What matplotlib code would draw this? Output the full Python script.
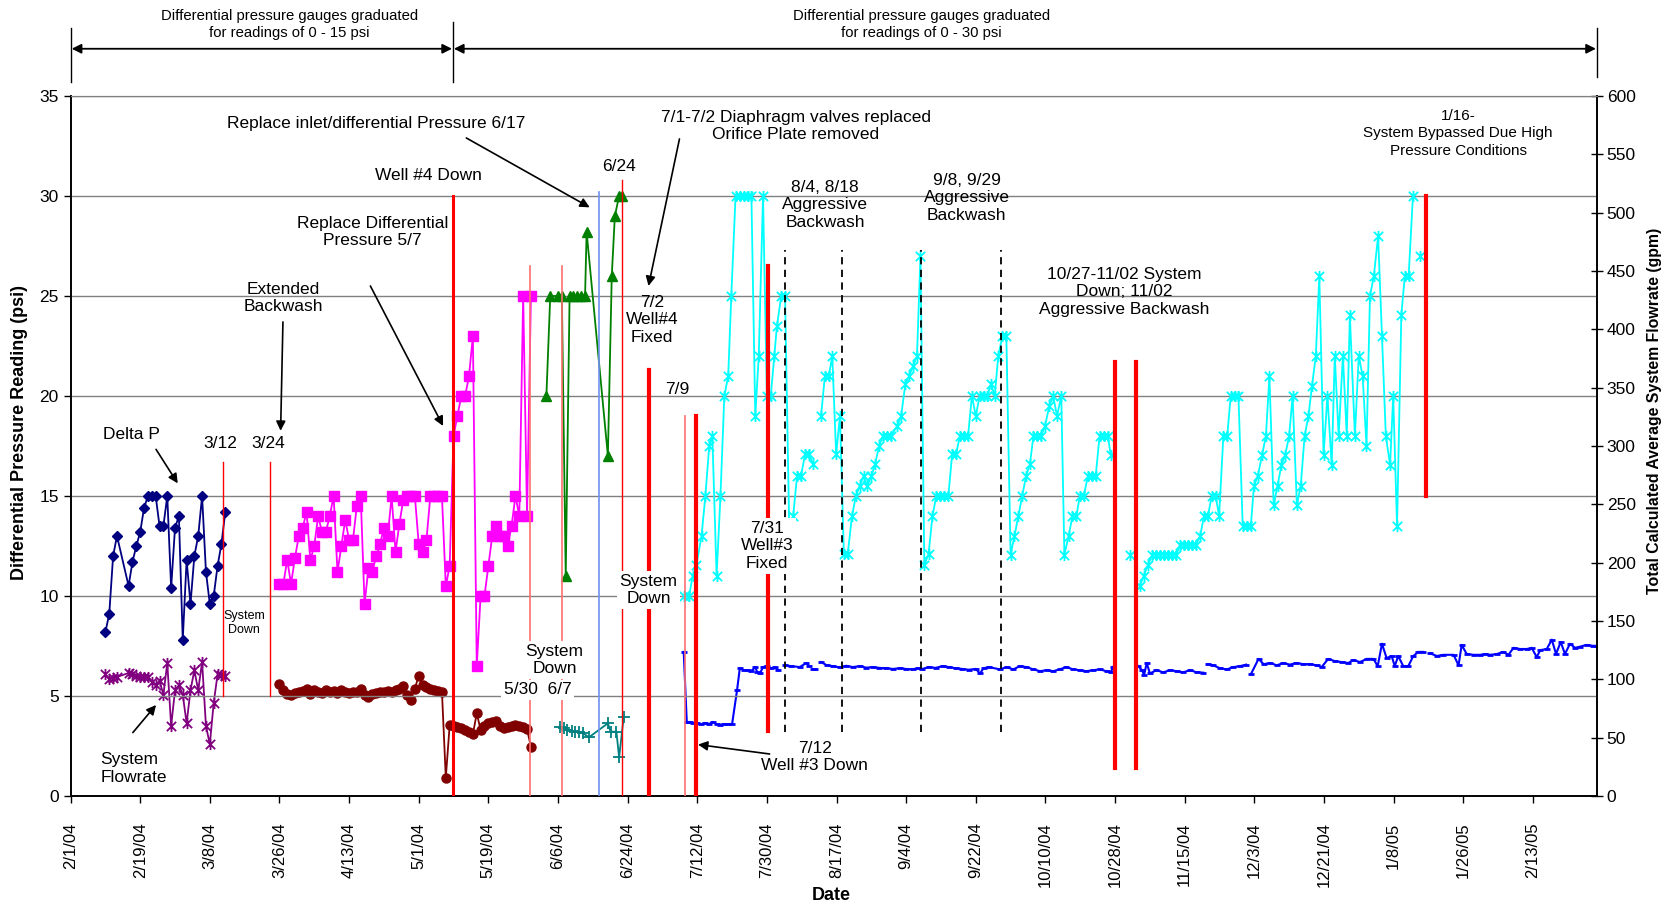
import datetime as dt
import numpy as np
import matplotlib
matplotlib.use("Agg")
import matplotlib.pyplot as plt
from matplotlib.path import Path

plt.rcParams['font.family'] = ['Liberation Sans', 'DejaVu Sans']

START = dt.date(2004, 2, 1)
nan = np.nan

# x values are days after 2/1/04

# ---- Feb/Mar 2004 (0-15 psi gauges) ----
dp1_days = [9, 10, 11, 12, 15, 16, 17, 18, 19, 20, 21, 22, 23, 24, 25,
            26, 27, 28, 29, 30, 31, 32, 33, 34, 35, 36, 37, 38, 39, 40]
dp1_psi = [8.2, 9.1, 12.0, 13.0, 10.5, 11.7, 12.5, 13.2, 14.4, 15.0, 15.0, 15.0, 13.5, 13.5, 15.0,
           10.4, 13.4, 14.0, 7.8, 11.8, 9.6, 12.0, 13.0, 15.0, 11.2, 9.6, 10.0, 11.5, 12.6, 14.2]
flow1_gpm = [104.3, 100.3, 101.1, 102.0, 105.4, 104.9, 102.9, 101.7, 101.7, 101.7, 97.7, 95.4, 98.6, 86.9, 114.0,
             60.0, 90.6, 94.9, 86.9, 62.3, 90.6, 107.7, 90.6, 114.9, 60.0, 44.3, 79.7, 104.3, 103.4, 102.6]

# ---- Mar 24 - May 30 ----
dp2_days = list(range(54, 120))
dp2_psi = [10.6, 10.6, 11.8, 10.6, 11.9, 13.0, 13.4, 14.2, 11.8, 12.5, 14.0, 13.2, 13.2, 14.0, 15.0,
           11.2, 12.5, 13.8, 12.8, 12.8, 14.5, 15.0, 9.6, 11.4, 11.2, 12.0, 12.6, 13.4, 13.0, 15.0,
           12.2, 13.6, 14.8, 15.0, 15.0, 15.0, 12.6, 12.2, 12.8, 15.0, 15.0, 15.0, 15.0, 10.5, 11.5,
           18.0, 19.0, 20.0, 20.0, 21.0, 23.0, 6.5, 10.0, 10.0, 11.5, 13.0, 13.5, 13.0, 13.0, 12.5,
           13.5, 15.0, 14.0, 25.0, 14.0, 25.0]
flow2_gpm = [96.3, 90.6, 87.7, 86.3, 88.3, 89.1, 90.0, 92.0, 87.7, 90.6, 89.1, 88.3, 90.6, 89.1, 90.0,
             88.3, 91.1, 89.1, 88.3, 89.1, 89.1, 92.0, 86.3, 84.9, 87.7, 88.3, 89.1, 89.1, 90.0, 89.1,
             90.6, 92.0, 94.0, 86.3, 82.6, 92.0, 103.1, 95.0, 93.0, 91.4, 90.5, 90.3, 89.5, 15.7, 60.6,
             60.0, 59.4, 58.0, 56.6, 55.1, 52.9, 70.9, 56.6, 60.3, 62.3, 63.7, 64.6, 60.3, 58.0, 59.4,
             60.3, 60.9, 60.3, 59.4, 57.1, 42.3]

# ---- June 2004 ----
dp3_days = [123, 124, 126, 127, 128, 129, 130, 131, 132, 133, 133.4, 138.9, 139.9, 140.7, 141.8, 142.5]
dp3_psi = [20.0, 25.0, 25.0, 25.0, 11.0, 25.0, 25.0, 25.0, 25.0, 25.0, 28.2, 17.0, 26.0, 29.0, 30.0, 30.0]
flow3_days = [126.4, 127.5, 128.4, 129.5, 130.5, 131.5, 132.5, 134.0, 138.9, 139.6, 141.1, 141.8, 143.0]
flow3_gpm = [59.4, 58.0, 56.6, 56.0, 55.1, 54.6, 53.7, 50.3, 62.3, 55.1, 55.1, 33.1, 68.0]

# ---- July 2004 - Jan 2005 (0-30 psi gauges) ----
dp4_days = [158.5, 159.9, 160.8, 161.8, 163.1, 164.1, 165.1, 165.9, 167, 168, 169, 170, 170.8, 171.9,
            173, 174, 175, 176, 177, 177.9, 179, 180, 181, 181.9, 182.6, 183.7, 184.7, 185.8, 186.8,
            187.8, 188.8, 189.9, 190.9, 191.9, 193,
            194, 195, 196, 196.9, 197.9, 198.9, 199.9, 200.9, 202, 203, 204, 205, 205.9, 207, 208,
            209, 210, 211, 212, 213.7, 214.7, 215.8, 216.8, 217.8, 218.8, 219.7, 220.7, 221.8, 222.8,
            223.8, 224.8, 225.9, 226.9, 227.9, 228.9, 229.9, 230.9, 232, 233, 234, 235, 236, 237,
            237.9, 238.9, 239.8, 240.9, 241.9, 243, 244, 245, 246, 247, 248, 248.9, 249.9, 250.9,
            251.9, 253, 254, 255, 256.1, 256.9, 258, 259, 260, 260.9, 261.9, 263, 264, 265, 266,
            267.1, 268.1, 268.9, 271, 273.8, 275,
            276.4, 277.4, 278.5, 279.6, 280.6, 281.6, 282.7, 283.7, 284.7, 285.8, 286.8, 287.8, 288.9,
            289.9, 290.9, 292, 293, 294, 295, 296, 296.9, 298, 299, 299.9, 300.9, 301.9, 303, 304,
            305.1, 305.9, 306.9, 308, 309, 309.9, 311, 312, 313, 314, 315, 315.9, 317, 318, 319, 320,
            320.9, 321.9, 322.8, 323.9, 324.9, 326, 326.8, 327.8, 328.9, 329.9, 330.7, 332, 333, 334,
            335, 335.9, 336.9, 338, 339, 340, 341.1, 341.9, 342.9, 344, 344.9, 345.9, 347, 348, 348.9]
dp4_psi = [10.0, 10.0, 11.0, 11.55, 13.0, 15.0, 17.5, 18.0, 11.0, 15.0, 20.0, 21.0, 25.0, 30.0,
           30.0, 30.0, 30.0, 30.0, 19.0, 22.0, 30.0, 20.0, 20.0, 22.0, 23.5, 25.0, 25.0, 13.1, 14.0,
           16.0, 16.0, 17.1, 17.1, 16.6, nan,
           19.0, 21.0, 21.0, 22.0, 17.1, 19.0, 12.1, 12.1, 14.0, 15.0, 15.5, 16.0, 15.5, 16.0, 16.6,
           17.5, 18.0, 18.0, 18.0, 18.5, 19.0, 20.6, 21.0, 21.5, 22.0, 27.0, 11.55, 12.1, 14.0,
           15.0, 15.0, 15.0, 15.0, 17.1, 17.1, 18.0, 18.0, 18.0, 20.0, 19.0, 20.0, 20.0, 20.0,
           20.6, 20.0, 22.0, 23.0, 23.0, 12.06, 13.0, 14.0, 15.0, 16.0, 16.6, 18.0, 18.0, 18.0,
           18.5, 19.5, 20.0, 19.0, 20.0, 12.06, 13.0, 14.0, 14.0, 15.0, 15.0, 16.0, 16.0, 16.0, 18.0,
           18.0, 18.0, 17.06, nan, 12.06, nan,
           10.5, 11.0, 11.55, 12.06, 12.06, 12.06, 12.06, 12.06, 12.06, 12.06, 12.55, 12.55, 12.55,
           12.55, 12.55, 13.0, 14.0, 14.0, 15.0, 15.0, 14.0, 18.0, 18.0, 20.0, 20.0, 20.0, 13.5, 13.5,
           13.5, 15.5, 16.0, 17.06, 18.0, 21.0, 14.55, 15.5, 16.55, 17.06, 18.0, 20.0, 14.55, 15.5, 18.0, 19.0,
           20.5, 22.0, 26.0, 17.06, 20.0, 16.55, 22.0, 18.0, 22.0, 18.0, 24.04, 18.0, 22.0, 21.0,
           17.5, 25.0, 26.0, 28.0, 23.0, 18.0, 16.55, 20.0, 13.5, 24.04, 26.0, 26.0, 30.0, nan, 27.0]

flow4_days = [158.5, 159.3, 160, 161, 162, 163, 164, 165, 166, 167, 168, 169, 170, 171, 172.3,
              173, 174, 175, 176, 177, 177.5, 178.2, 179, 180, 181, 182, 183, 184,
              184.7, 186.3, 188.5, 190.2, 191, 191.6, 191.9, 192.4, 193,
              194, 195.5, 197, 198.8, 200.5, 202.2, 204, 205.7, 207.4, 209.1, 210.8, 212.6, 214.3,
              216, 217.7, 219, 220.2, 221.9, 223.6, 225.4, 227.1, 228.8, 230.5, 232.2, 234, 235.1,
              236, 237.4, 240.2, 242, 243.7, 245.4, 247.1, 248.9, 250.6, 252.3, 254, 255.7, 257.4,
              259.2, 260.9, 262.6, 264.3, 266, 267.8, 268.9, 269.5, 272,
              276, 277, 277.5, 278.2, 279, 280.7, 282.5, 284.2, 285.9, 287.6, 289.4, 291.1, 292.8, 293.4,
              293.9, 295.4, 297.1, 298.9, 300.6, 302.3, 303.9, 304.5,
              305.1, 307.1, 308.4, 310.1, 311.8, 313.5, 315.2, 316.9, 318.7, 320.4, 322.1, 323.4, 325.1,
              326.9, 328.6, 330.3, 331.6, 333.3, 335.1, 336.8, 337.9, 339, 340.2, 341.5, 342.3, 343.2,
              344.5, 345.8, 347.1, 348.4, 349.6, 350.3,
              351.3, 353.2, 354.9, 357.5, 358.8, 359.6, 360.9, 362.7, 364.4, 365.7, 367, 368.7, 370.4,
              371.7, 373, 374.7, 376.5, 377.7, 379, 379.9, 381.6, 382.9, 384, 385.2, 386.3, 387.6,
              388.9, 390.2, 391.9, 393.6, 394.5]
flow4_gpm = [123.5, 63.0, 63.5, 62.5, 62.5, 61.5, 62.5, 61.5, 63.5, 61.5, 61.0, 61.5, 61.5, 61.5, 91.0,
             109.5, 107.8, 107.8, 107.0, 110.5, 106.0, 105.0, 110.5, 111.3, 109.5, 110.2, 107.8, nan,
             112.0, 111.3, 110.5, 114.0, 111.0, nan, 108.5, 108.5, nan,
             114.8, 112.0, 111.3, 110.2, 111.6, 110.5, 111.3, 110.0, 110.5, 109.8, 109.5, 108.9, 109.5,
             108.9, 108.5, 109.5, 108.9, 110.5, 109.8, 111.3, 110.5, 109.5, 108.9, 108.2, 108.9, 105.0,
             109.5, 110.5, 108.5, 110.5, 108.5, 111.3, 110.5, 108.5, 107.0, 107.8, 107.0, 108.5, 110.5,
             108.5, 107.8, 107.0, 107.8, 108.5, 107.0, 106.0, 110.5, nan,
             111.3, 107.8, 103.6, 114.0, 105.0, 107.8, 106.0, 107.8, 107.0, 106.0, 107.8, 106.0, 105.7, nan,
             113.0, 112.0, 109.5, 108.5, 110.5, 111.3, 112.6, nan,
             104.3, 117.5, 113.0, 114.0, 112.0, 114.0, 112.6, 114.0, 113.0, 113.0, 112.0, 110.5, 117.5,
             115.5, 114.8, 114.0, 116.5, 114.8, 117.5, 117.5, 111.3, 130.5, 118.2, 120.0, 111.3, 120.0,
             111.3, 111.3, 120.0, 123.5, 123.5, nan,
             122.4, 120.0, 121.0, 121.0, 112.0, 129.5, 121.7, 121.0, 121.0, 121.7, 121.0, 121.7, 123.5,
             121.0, 127.0, 126.0, 126.0, 127.0, 119.0, 125.0, 126.0, 134.0, 121.7, 132.0, 121.7, 130.5,
             127.0, 128.0, 129.5, 128.7, 128.7]

# event lines: (day, bottom psi, top psi)
thin_red = [(39.5, 5.0, 16.7), (51.5, 5.0, 16.7), (142.6, 0.0, 30.8)]
pale_red = [(118.85, 0.0, 26.5), (127.1, 0.0, 26.5), (158.75, 0.0, 19.0)]
heavy_red = [(149.4, 0.0, 21.3), (161.8, 0.0, 19.0), (180.3, 3.25, 26.5),
             (269.9, 1.4, 21.7), (275.4, 1.4, 21.7), (350.3, 15.0, 30.0)]
well4_down = (98.85, 0.0, 30.0)
sensor_swap = (136.6, 0.0, 30.2)
backwash = [(184.8, 3.2, 27.3), (199.4, 3.2, 27.3), (219.9, 3.2, 27.3), (240.6, 3.2, 27.3)]

XMAX = 394.6


def tick_label(day):
    d = START + dt.timedelta(days=int(day))
    return f"{d.month}/{d.day}/{d.strftime('%y')}"


def star_marker():
    verts = [(-1, -1), (1, 1), (-1, 1), (1, -1), (0, -1.2), (0, 1.2)]
    codes = [Path.MOVETO, Path.LINETO] * 3
    return Path(verts, codes)


def main():
    fig = plt.figure(figsize=(16.76, 9.07), dpi=100)
    ax = fig.add_axes([0.0421, 0.1224, 0.9108, 0.7718])
    ax2 = ax.twinx()
    ax.set_zorder(ax2.get_zorder() + 1)
    ax.patch.set_visible(False)

    star = star_marker()

    # pressure series (left axis)
    ax.plot(dp1_days, dp1_psi, color='#000080', lw=1.3, marker='D', ms=5.5, zorder=4)
    ax.plot(dp2_days, dp2_psi, color='#FF00FF', lw=1.3, marker='s', ms=6.5, zorder=4)
    ax.plot(dp3_days, dp3_psi, color='#008000', lw=1.3, marker='^', ms=7, zorder=4)
    ax.plot(dp4_days, dp4_psi, color='#00FFFF', lw=1.3, marker=star, ms=8, mew=1.3, zorder=4)

    # flow series (right axis)
    ax2.plot(dp1_days, flow1_gpm, color='#800080', lw=1.3, marker=star, ms=8, mew=1.3)
    ax2.plot(dp2_days, flow2_gpm, color='#800000', lw=1.3, marker='o', ms=6.5)
    ax2.plot(flow3_days, flow3_gpm, color='#008080', lw=1.3, marker='+', ms=8, mew=1.3)
    ax2.plot(flow4_days, flow4_gpm, color='#0000FF', lw=1.5, marker='_', ms=5, mew=2)

    # event lines
    for d, lo, hi in thin_red:
        ax.plot([d, d], [lo, hi], color='#FF0000', lw=1.0, zorder=5)
    for d, lo, hi in pale_red:
        ax.plot([d, d], [lo, hi], color='#FF6F6F', lw=1.2, zorder=5)
    for d, lo, hi in heavy_red:
        ax.plot([d, d], [lo, hi], color='#FF0000', lw=3.0, zorder=5)
    ax.plot([well4_down[0]] * 2, well4_down[1:], color='#FF0000', lw=2.2, zorder=5)
    ax.plot([sensor_swap[0]] * 2, sensor_swap[1:], color='#7092F0', lw=1.2, zorder=5)
    for d, lo, hi in backwash:
        ax.plot([d, d], [lo, hi], color='black', lw=1.3, ls=(0, (4, 3)), zorder=5)

    # axes, ticks, grid
    ax.set_xlim(0, XMAX)
    ax.set_ylim(0, 35)
    ax2.set_ylim(0, 600)
    xt = np.arange(0, XMAX, 18)
    ax.set_xticks(xt)
    ax.set_xticklabels([tick_label(v) for v in xt], rotation=90, fontsize=12)
    ax.set_yticks(np.arange(0, 36, 5))
    ax.set_yticklabels([str(v) for v in range(0, 36, 5)], fontsize=12.5)
    ax2.set_yticks(np.arange(0, 601, 50))
    ax2.set_yticklabels([str(v) for v in range(0, 601, 50)], fontsize=12.5)
    ax.tick_params(axis='x', direction='out', length=5, pad=14, width=1)
    ax.tick_params(axis='y', direction='out', length=5, width=1)
    ax2.tick_params(axis='y', direction='inout', length=8, pad=3, width=1)
    ax.yaxis.grid(True, color='#808080', lw=1.0)
    ax.set_axisbelow(True)
    for a in (ax, ax2):
        a.spines['top'].set_color('#808080')
        for s in ('left', 'right', 'bottom'):
            a.spines[s].set_linewidth(1.2)

    fig.text(0.0119, 0.5237, 'Differential Pressure Reading (psi)', rotation=90,
             ha='center', va='center', fontsize=13, weight='bold')
    fig.text(0.987, 0.547, 'Total Calculated Average System Flowrate (gpm)', rotation=90,
             ha='center', va='center', fontsize=11.4, weight='bold')
    fig.text(0.496, 0.0132, 'Date', ha='center', va='center', fontsize=13, weight='bold')

    # gauge range header above the plot
    hy = 37.36
    ax.text(56.5, 38.56, 'Differential pressure gauges graduated\nfor readings of 0 - 15 psi',
            ha='center', va='center', fontsize=10.7, linespacing=1.3, clip_on=False)
    ax.text(219.9, 38.56, 'Differential pressure gauges graduated\nfor readings of 0 - 30 psi',
            ha='center', va='center', fontsize=10.7, linespacing=1.3, clip_on=False)
    head = dict(arrowstyle='<|-|>', color='black', lw=1.3, mutation_scale=14, shrinkA=0, shrinkB=0)
    ax.annotate('', xy=(0.3, hy), xytext=(98.6, hy), arrowprops=head, annotation_clip=False)
    ax.annotate('', xy=(99.1, hy), xytext=(XMAX - 0.3, hy), arrowprops=head, annotation_clip=False)
    for d, lo, hi in [(0, 35.72, 38.42), (98.85, 35.72, 38.7), (XMAX, 35.95, 38.4)]:
        ax.plot([d, d], [lo, hi], color='black', lw=1.0, clip_on=False)

    # notes inside the plot
    fs = 12.5
    arr = dict(arrowstyle='-|>', color='black', lw=1.2, mutation_scale=14, shrinkA=0, shrinkB=0)
    white = dict(facecolor='white', edgecolor='none', pad=2)

    ax.text(78.9, 33.6, 'Replace inlet/differential Pressure 6/17', ha='center', va='center',
            fontsize=fs, zorder=6)
    ax.annotate('', xy=(134.2, 29.43), xytext=(102.3, 32.9), arrowprops=arr, zorder=6)
    ax.text(187.5, 33.5, '7/1-7/2 Diaphragm valves replaced\nOrifice Plate removed',
            ha='center', va='center', fontsize=fs, zorder=6)
    ax.annotate('', xy=(149.4, 25.5), xytext=(157.4, 32.85), arrowprops=arr, zorder=6)
    ax.text(92.6, 31.0, 'Well #4 Down', ha='center', va='center', fontsize=fs, zorder=6)
    ax.text(141.9, 31.47, '6/24', ha='center', va='center', fontsize=fs, zorder=6)
    ax.text(78.1, 28.2, 'Replace Differential\nPressure 5/7', ha='center', va='center',
            fontsize=fs, zorder=6)
    ax.annotate('', xy=(96.3, 18.5), xytext=(77.5, 25.5), arrowprops=arr, zorder=6)
    ax.text(55.1, 24.9, 'Extended\nBackwash', ha='center', va='center', fontsize=fs, zorder=6)
    ax.annotate('', xy=(54.3, 18.26), xytext=(54.9, 23.7), arrowprops=arr, zorder=6)
    ax.text(38.8, 17.63, '3/12', ha='center', va='center', fontsize=fs, zorder=6)
    ax.text(51.2, 17.63, '3/24', ha='center', va='center', fontsize=fs, zorder=6)
    ax.text(15.7, 18.05, 'Delta P', ha='center', va='center', fontsize=fs, zorder=6)
    ax.annotate('', xy=(27.7, 15.63), xytext=(22.1, 17.33), arrowprops=arr, zorder=6)
    ax.text(7.7, 1.38, 'System\nFlowrate', ha='left', va='center', fontsize=fs, zorder=6)
    ax.annotate('', xy=(22.1, 4.55), xytext=(16.1, 3.17), arrowprops=arr, zorder=6)
    ax.text(44.9, 8.63, 'System\nDown', ha='center', va='center', fontsize=9, zorder=6)
    ax.text(150.3, 23.8, '7/2\nWell#4\nFixed', ha='center', va='center', fontsize=fs, zorder=6)
    ax.text(156.9, 20.3, '7/9', ha='center', va='center', fontsize=fs, zorder=6)
    ax.text(149.4, 10.3, 'System\nDown', ha='center', va='center', fontsize=fs, bbox=white, zorder=7)
    ax.text(125.1, 6.8, 'System\nDown', ha='center', va='center', fontsize=fs, bbox=white, zorder=7)
    ax.text(120.7, 5.3, '5/30  6/7', ha='center', va='center', fontsize=fs, bbox=white, zorder=7)
    ax.text(180.0, 12.5, '7/31\nWell#3\nFixed', ha='center', va='center', fontsize=fs,
            bbox=white, zorder=7)
    ax.text(192.4, 1.95, '7/12\nWell #3 Down', ha='center', va='center', fontsize=fs, zorder=6)
    ax.annotate('', xy=(162.2, 2.57), xytext=(180.7, 2.1), arrowprops=arr, zorder=6)
    ax.text(195.1, 29.55, '8/4, 8/18\nAggressive\nBackwash', ha='center', va='center',
            fontsize=fs, zorder=6)
    ax.text(231.6, 29.9, '9/8, 9/29\nAggressive\nBackwash', ha='center', va='center',
            fontsize=fs, zorder=6)
    ax.text(272.3, 25.2, '10/27-11/02 System\nDown; 11/02\nAggressive Backwash', ha='center',
            va='center', fontsize=fs, zorder=6)
    ax.text(358.7, 33.13, '1/16-\nSystem Bypassed Due High\nPressure Conditions', ha='center',
            va='center', fontsize=11, linespacing=1.35, zorder=6)

    fig.savefig('out.png', dpi=100, facecolor='white')


if __name__ == '__main__':
    main()
